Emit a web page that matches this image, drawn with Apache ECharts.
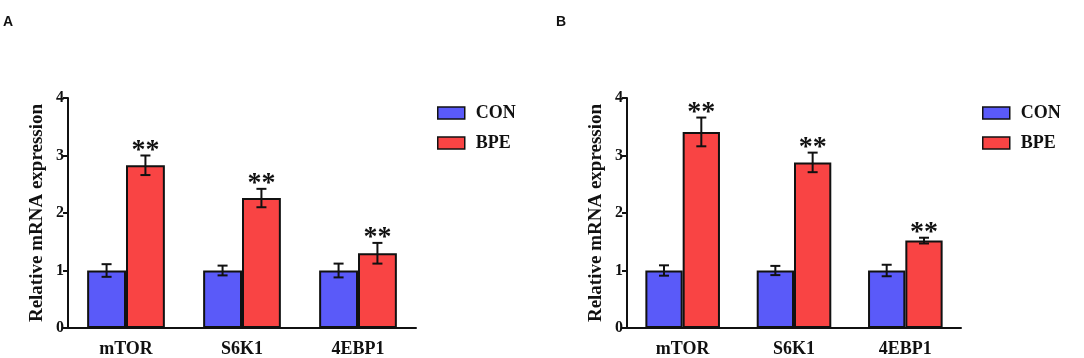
<!DOCTYPE html>
<html>
<head>
<meta charset="utf-8">
<script src="https://cdn.jsdelivr.net/npm/echarts@6/dist/echarts.min.js"></script>
<style>
  html, body { margin: 0; padding: 0; background: #fff; }
  #chart { width: 1084px; height: 358px; }
</style>
</head>
<body>
<div id="chart"></div>
<script>
// 数据
var categories = ['mTOR', 'S6K1', '4EBP1'];
var conA = [1, 1, 1];
var conErrA = [0.11, 0.085, 0.12];
var bpeA = [2.83, 2.26, 1.30];
var bpeErrA = [0.17, 0.16, 0.18];
var conB = [1, 1, 1];
var conErrB = [0.09, 0.08, 0.10];
var bpeB = [3.41, 2.88, 1.52];
var bpeErrB = [0.25, 0.17, 0.05];
var starsBpe = ['**', '**', '**'];
var yTicks = [0, 1, 2, 3, 4];

var serif = '"Liberation Serif", "Times New Roman", serif';
var sans = '"Liberation Sans", Arial, sans-serif';
var blue = '#5a5af9';
var red = '#f94444';
var gapPct = 0.33;

var chart = echarts.init(document.getElementById('chart'));

function errData(mean, err, stars) {
    return mean.map(function (v, i) {
        return [i, v, err[i], stars ? stars[i] : ''];
    });
}

// 误差线 + 星号
function errSeries(name, gridIdx, group, data) {
    return {
        type: 'custom',
        name: name + '_err',
        xAxisIndex: gridIdx,
        yAxisIndex: gridIdx,
        z: 5,
        data: data,
        renderItem: function (params, api) {
            var cat = api.value(0), mean = api.value(1), err = api.value(2);
            var bw = api.size([1, 0])[0];
            var groupW = bw * (1 - gapPct);
            var barW = groupW / 2;
            var cx = api.coord([cat, 0])[0] - groupW / 2 + barW * (group + 0.5);
            var yTop = api.coord([cat, mean + err])[1];
            var yBot = api.coord([cat, mean - err])[1];
            var cap = 5;
            var st = { stroke: '#111', lineWidth: 2 };
            var children = [
                { type: 'line', shape: { x1: cx, y1: yTop, x2: cx, y2: yBot }, style: st },
                { type: 'line', shape: { x1: cx - cap, y1: yTop, x2: cx + cap, y2: yTop }, style: st },
                { type: 'line', shape: { x1: cx - cap, y1: yBot, x2: cx + cap, y2: yBot }, style: st }
            ];
            var s = data[params.dataIndex][3];
            if (s) {
                children.push({
                    type: 'text',
                    style: {
                        text: s, x: cx, y: yTop + 9,
                        align: 'center', verticalAlign: 'bottom',
                        font: 'bold 28px ' + serif, fill: '#111'
                    }
                });
            }
            return { type: 'group', children: children };
        }
    };
}

function barSeries(name, gridIdx, values, color) {
    return {
        type: 'bar',
        name: name,
        xAxisIndex: gridIdx,
        yAxisIndex: gridIdx,
        data: values,
        barGap: '0%',
        barCategoryGap: (gapPct * 100) + '%',
        itemStyle: { color: color, borderColor: '#111', borderWidth: 2 }
    };
}

function xAxis(gridIdx) {
    return {
        type: 'category',
        gridIndex: gridIdx,
        data: categories,
        axisLine: { lineStyle: { color: '#111', width: 2 } },
        axisTick: { show: false },
        axisLabel: { color: '#111', fontFamily: serif, fontWeight: 'bold', fontSize: 18, margin: 12 }
    };
}

function yAxis(gridIdx) {
    return {
        type: 'value',
        gridIndex: gridIdx,
        min: yTicks[0],
        max: yTicks[yTicks.length - 1],
        interval: 1,
        name: 'Relative mRNA expression',
        nameLocation: 'middle',
        nameGap: 21,
        nameTextStyle: { color: '#111', fontFamily: serif, fontWeight: 'bold', fontSize: 19 },
        axisLine: { show: true, lineStyle: { color: '#111', width: 2 } },
        axisTick: { show: true, length: 5, lineStyle: { color: '#111', width: 2 } },
        axisLabel: { color: '#111', fontFamily: serif, fontWeight: 'bold', fontSize: 16, margin: 4 },
        splitLine: { show: false }
    };
}

function legend(left) {
    return {
        data: ['CON', 'BPE'],
        orient: 'vertical',
        left: left,
        top: 99,
        icon: 'rect',
        itemWidth: 27,
        itemHeight: 12,
        itemGap: 12,
        selectedMode: false,
        itemStyle: { borderColor: '#111', borderWidth: 1.5 },
        textStyle: { color: '#111', fontFamily: serif, fontWeight: 'bold', fontSize: 18, padding: [0, 0, 0, 6] }
    };
}

var option = {
    animation: false,
    backgroundColor: '#fff',
    title: [
        { text: 'A', left: 3, top: 15, padding: 0, textStyle: { fontFamily: sans, fontWeight: 'bold', fontSize: 14, color: '#111' } },
        { text: 'B', left: 556, top: 15, padding: 0, textStyle: { fontFamily: sans, fontWeight: 'bold', fontSize: 14, color: '#111' } }
    ],
    legend: [legend(432), legend(977)],
    grid: [
        { left: 68, top: 98, width: 348, height: 230 },
        { left: 627, top: 98, width: 334, height: 230 }
    ],
    xAxis: [xAxis(0), xAxis(1)],
    yAxis: [yAxis(0), yAxis(1)],
    series: [
        barSeries('CON', 0, conA, blue),
        barSeries('BPE', 0, bpeA, red),
        errSeries('CON', 0, 0, errData(conA, conErrA)),
        errSeries('BPE', 0, 1, errData(bpeA, bpeErrA, starsBpe)),
        barSeries('CON', 1, conB, blue),
        barSeries('BPE', 1, bpeB, red),
        errSeries('CON', 1, 0, errData(conB, conErrB)),
        errSeries('BPE', 1, 1, errData(bpeB, bpeErrB, starsBpe))
    ]
};
chart.setOption(option);
</script>
</body>
</html>
